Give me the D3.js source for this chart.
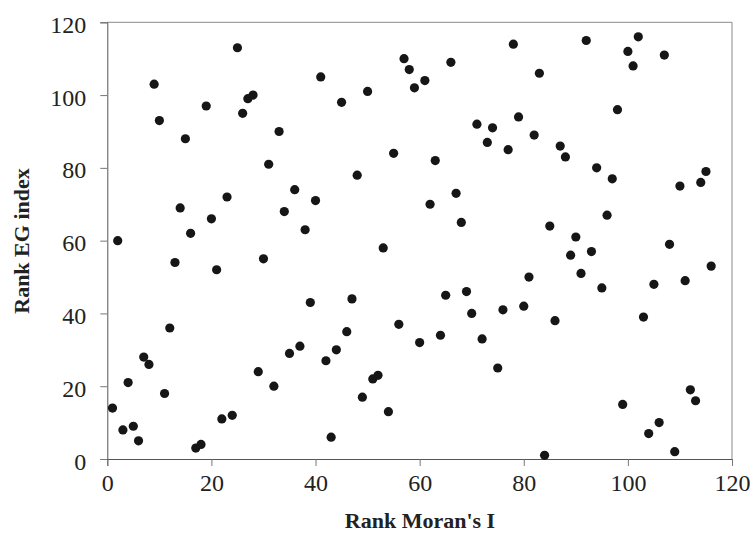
<!DOCTYPE html>
<html>
<head>
<meta charset="utf-8">
<script src="https://cdn.jsdelivr.net/npm/d3@7"></script>
<style>
  html, body { margin: 0; padding: 0; background: #fff; }
  svg { display: block; }
</style>
</head>
<body>
<svg id="chart" width="755" height="549"></svg>
<script>
// Rank Moran's I (x) and Rank EG index (y)
const rankMoran = [
  1,2,3,4,5,6,7,8,9,10,11,12,13,14,15,16,17,18,19,20,
  21,22,23,24,25,26,27,28,29,30,31,32,33,34,35,36,37,38,39,40,
  41,42,43,44,45,46,47,48,49,50,51,52,53,54,55,56,57,58,59,60,
  61,62,63,64,65,66,67,68,69,70,71,72,73,74,75,76,77,78,79,80,
  81,82,83,84,85,86,87,88,89,90,91,92,93,94,95,96,97,98,99,100,
  101,102,103,104,105,106,107,108,109,110,111,112,113,114,115,116
];
const rankEG = [
  14,60,8,21,9,5,28,26,103,93,18,36,54,69,88,62,3,4,97,66,
  52,11,72,12,113,95,99,100,24,55,81,20,90,68,29,74,31,63,43,71,
  105,27,6,30,98,35,44,78,17,101,22,23,58,13,84,37,110,107,102,32,
  104,70,82,34,45,109,73,65,46,40,92,33,87,91,25,41,85,114,94,42,
  50,89,106,1,64,38,86,83,56,61,51,115,57,80,47,67,77,96,15,112,
  108,116,39,7,48,10,111,59,2,75,49,19,16,76,79,53
];
const xTicks = [0, 20, 40, 60, 80, 100, 120];
const yTicks = [0, 20, 40, 60, 80, 100, 120];
const xTitle = "Rank Moran's I";
const yTitle = "Rank EG index";

const data = rankMoran.map((x, i) => ({ x, y: rankEG[i] }));

const svg = d3.select("#chart");
const mLeft = 107.3, mRight = 732, mTop = 22.3, mBottom = 459;

const x = d3.scaleLinear().domain([0, 120]).range([mLeft, mRight]);
const y = d3.scaleLinear().domain([0, 120]).range([mBottom, mTop]);

// frame (top and right)
svg.append("line")
  .attr("x1", mLeft).attr("x2", mRight).attr("y1", mTop).attr("y2", mTop)
  .attr("stroke", "#8a8a8a").attr("stroke-width", 1);
svg.append("line")
  .attr("x1", mRight).attr("x2", mRight).attr("y1", mTop).attr("y2", mBottom)
  .attr("stroke", "#8a8a8a").attr("stroke-width", 1);

const font = "'Liberation Serif', 'Times New Roman', serif";

// x axis
const xAxis = svg.append("g")
  .attr("transform", `translate(0,${mBottom})`)
  .call(d3.axisBottom(x).tickValues(xTicks).tickSize(7).tickPadding(8).tickFormat(d3.format("d")));
xAxis.select(".domain").attr("stroke", "#555");
xAxis.selectAll(".tick line").attr("stroke", "#777");
xAxis.selectAll("text")
  .attr("font-family", font).attr("font-size", "24px").attr("fill", "#222");

// y axis
const yAxis = svg.append("g")
  .attr("transform", `translate(${mLeft},0)`)
  .call(d3.axisLeft(y).tickValues(yTicks).tickSize(7).tickPadding(14).tickFormat(d3.format("d")));
yAxis.select(".domain").attr("stroke", "#555");
yAxis.selectAll(".tick line").attr("stroke", "#777");
yAxis.selectAll("text")
  .attr("font-family", font).attr("font-size", "24px").attr("fill", "#222")
  .attr("dy", "0.42em");

// points
svg.append("g")
  .selectAll("circle")
  .data(data)
  .join("circle")
  .attr("cx", d => x(d.x))
  .attr("cy", d => y(d.y))
  .attr("r", 4.6)
  .attr("fill", "#161616");

// titles
svg.append("text")
  .attr("x", 420).attr("y", 528)
  .attr("text-anchor", "middle")
  .attr("font-family", font).attr("font-weight", "bold").attr("font-size", "22px")
  .attr("fill", "#222")
  .text(xTitle);

svg.append("text")
  .attr("transform", "translate(29,241) rotate(-90)")
  .attr("text-anchor", "middle")
  .attr("font-family", font).attr("font-weight", "bold").attr("font-size", "22px")
  .attr("fill", "#222")
  .text(yTitle);
</script>
</body>
</html>
